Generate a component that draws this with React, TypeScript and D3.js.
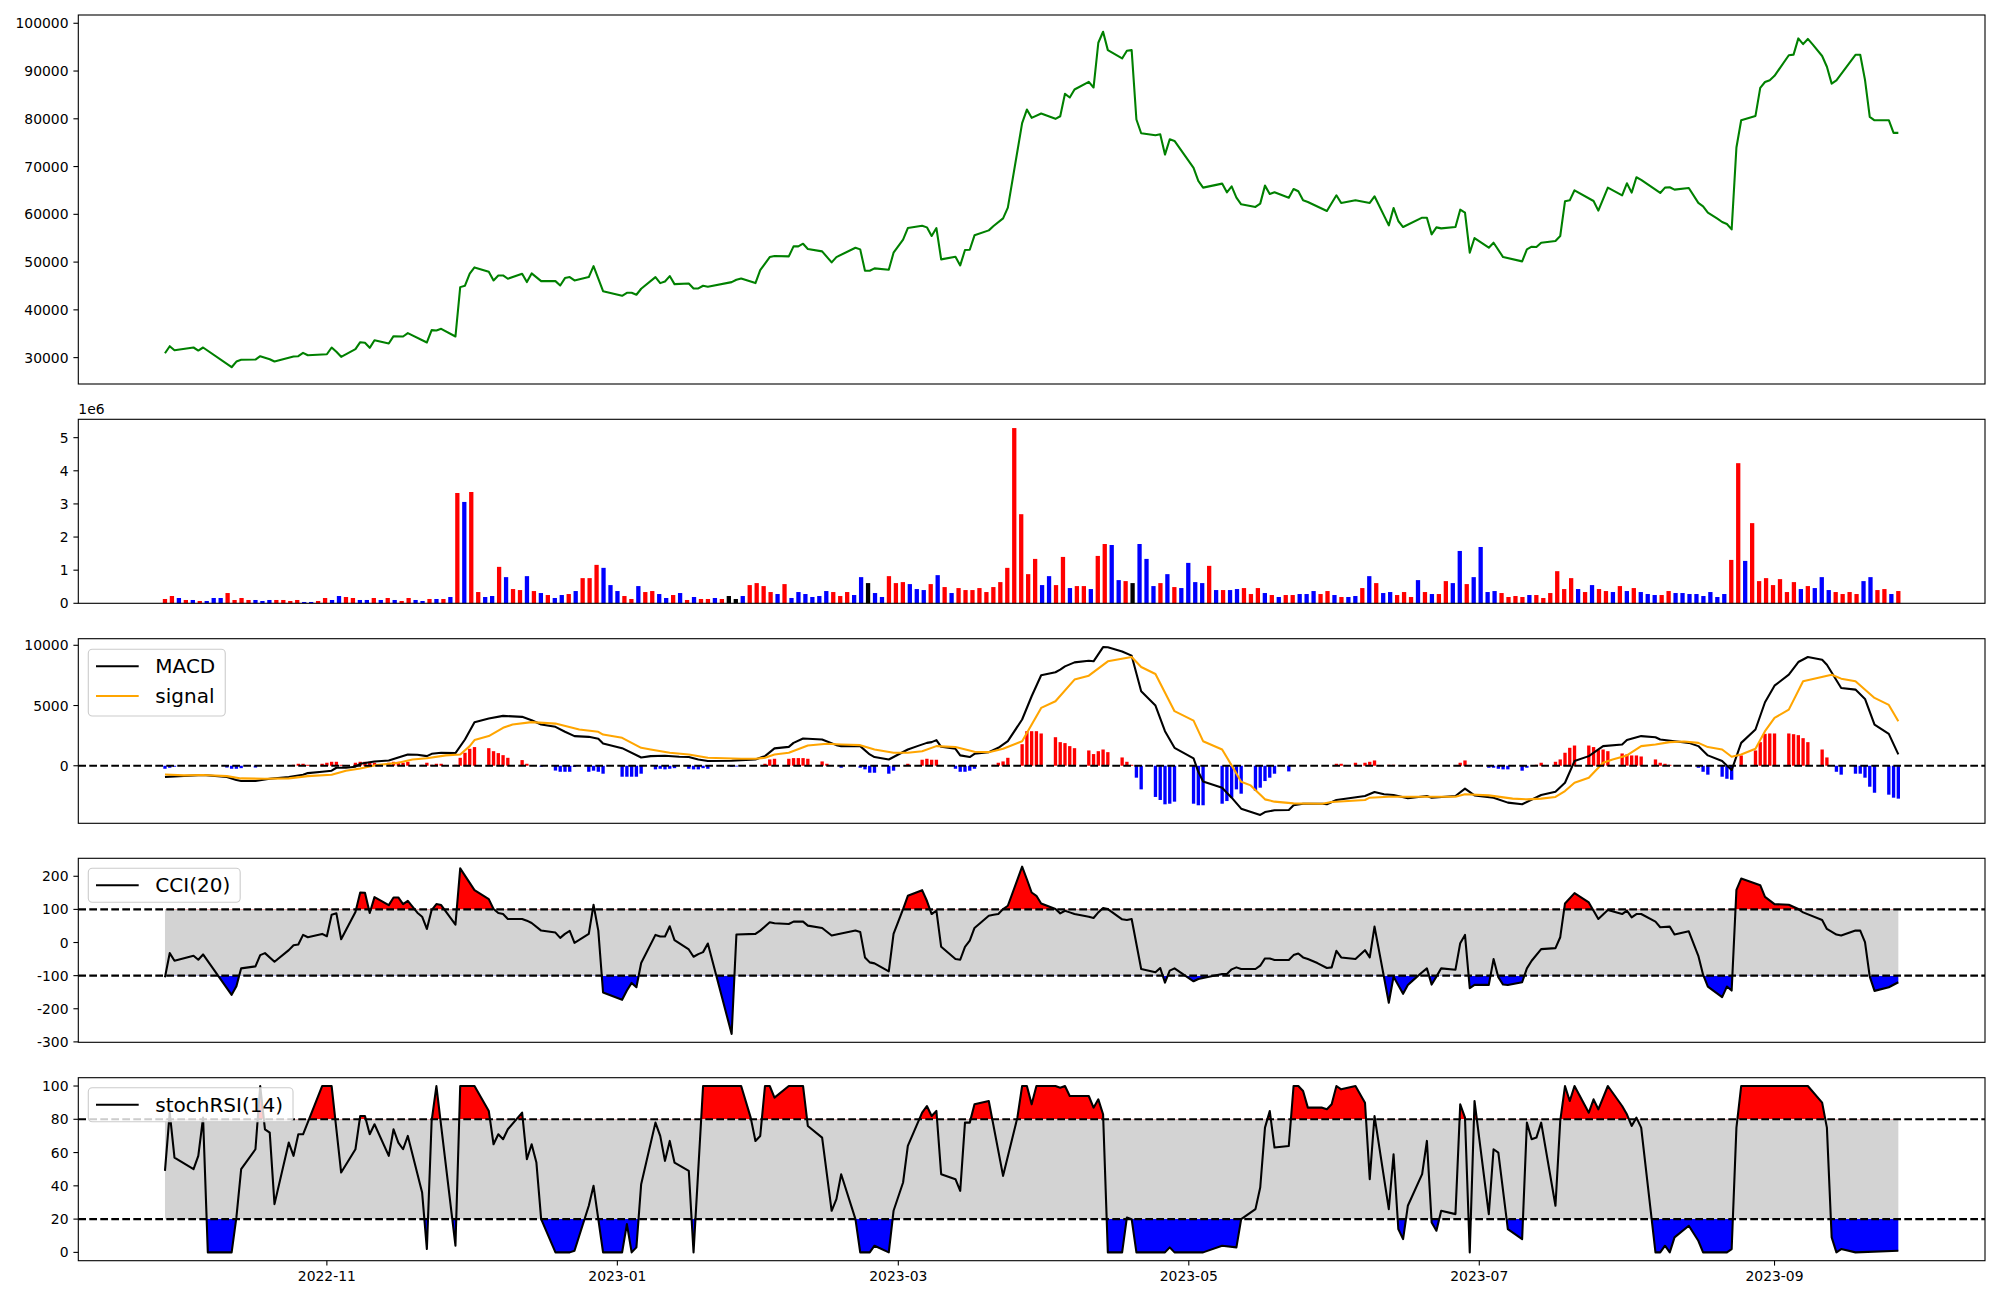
import React from 'react';
import * as d3 from 'd3';

// ---------- data ----------
const START_UTC = Date.UTC(2022, 8, 28); // day 0 = 2022-09-28
const LAST_DAY = 364; // 2023-09-27

// [day offset, close]
const PRICE: [number, number][] = [
  [0,30920],[1,32390],[2,31550],[6,32120],[7,31490],[8,32120],[14,27990],[15,29180],[16,29540],[19,29600],
  [20,30300],[22,29670],[23,29180],[27,30230],[28,30300],[29,31000],[30,30500],[34,30710],[35,32120],[36,31220],
  [37,30170],[40,31770],[41,33230],[42,33100],[43,32050],[44,33650],[47,32960],[48,34490],[50,34420],[51,35120],
  [55,33170],[56,35750],[57,35680],[58,36030],[61,34420],[62,44760],[63,45050],[64,47570],[65,48890],[68,47990],
  [69,46160],[70,47210],[71,47210],[72,46510],[75,47570],[76,45810],[77,47630],[79,46020],[82,46020],[83,45110],
  [84,46650],[85,46860],[86,46160],[89,46860],[90,49160],[92,43920],[96,42950],[97,43580],[98,43580],[99,43160],
  [100,44420],[103,46860],[104,45600],[105,45950],[106,47070],[107,45390],[110,45530],[111,44490],[112,44490],[113,45050],
  [114,44840],[119,45810],[120,46310],[121,46580],[124,45600],[125,48330],[127,51050],[128,51260],[131,51190],[132,53290],
  [133,53290],[134,53850],[135,52730],[138,52240],[140,49940],[141,51050],[145,53010],[146,52660],[147,48190],[148,48190],
  [149,48680],[152,48400],[153,51960],[155,54690],[156,57130],[159,57620],[160,57270],[161,55460],[162,57130],[163,50570],
  [166,51130],[167,49310],[168,52520],[169,52590],[170,55600],[173,56640],[174,57550],[176,59160],[177,61400],[180,79080],
  [181,81940],[182,80200],[184,81100],[187,79990],[188,80540],[189,85230],[190,84460],[191,86130],[194,87740],[195,86550],
  [196,95920],[197,98220],[198,94380],[201,92630],[202,94240],[203,94380],[204,79850],[205,76980],[208,76560],[209,76770],
  [210,72510],[211,75720],[212,75370],[216,69710],[217,66990],[218,65590],[222,66430],[223,64610],[224,65870],[225,63490],
  [226,62100],[229,61540],[230,62240],[231,66010],[232,64260],[233,64610],[236,63490],[237,65310],[238,64820],[239,62930],
  [240,62590],[244,60700],[246,63980],[247,62380],[250,62930],[253,62380],[254,63770],[257,57690],[258,61330],[259,58600],
  [260,57340],[264,59300],[265,59300],[266,55810],[267,57270],[268,57060],[271,57340],[272,60980],[273,60350],[274,51960],
  [275,55040],[278,53010],[279,54060],[281,51050],[285,50150],[286,52660],[287,53220],[288,53150],[289,54060],[292,54410],
  [293,55460],[294,62720],[295,62930],[296,65030],[300,62790],[301,60770],[303,65590],[306,63980],[307,66500],[308,64540],
  [309,67760],[310,67200],[314,64470],[315,65590],[316,65660],[317,65170],[320,65520],[322,62400],[323,61680],[324,60350],
  [326,59090],[327,58390],[328,57970],[329,56850],[330,74000],[331,79700],[334,80600],[335,86480],[336,87700],[337,88090],
  [338,89000],[341,93300],[342,93440],[343,96830],[344,95640],[345,96720],[346,95570],[348,93150],[349,90890],[350,87360],
  [351,88050],[355,93400],[356,93400],[357,88160],[358,80400],[359,79680],[362,79700],[363,77050],[364,77050],
];

// volume per session, in millions (250 sessions, evenly spaced)
const VOLUME_MILLIONS: number[] = [
  0.13,0.22,0.16,0.10,0.10,0.07,0.07,0.16,0.16,0.31,
  0.10,0.16,0.10,0.10,0.07,0.10,0.10,0.10,0.07,0.10,
  0.04,0.04,0.07,0.16,0.10,0.22,0.19,0.16,0.10,0.10,
  0.16,0.10,0.16,0.10,0.07,0.16,0.10,0.07,0.13,0.13,
  0.13,0.19,3.33,3.06,3.36,0.34,0.19,0.22,1.10,0.79,
  0.43,0.40,0.82,0.37,0.31,0.25,0.16,0.25,0.28,0.37,
  0.76,0.76,1.16,1.07,0.55,0.37,0.22,0.13,0.52,0.34,
  0.37,0.28,0.16,0.25,0.31,0.10,0.19,0.13,0.13,0.16,
  0.13,0.22,0.13,0.22,0.55,0.61,0.52,0.34,0.28,0.58,
  0.16,0.34,0.28,0.19,0.22,0.37,0.34,0.22,0.34,0.25,
  0.79,0.61,0.31,0.19,0.82,0.61,0.64,0.58,0.43,0.40,
  0.58,0.85,0.49,0.31,0.46,0.40,0.40,0.46,0.34,0.49,
  0.64,1.07,5.29,2.69,0.88,1.34,0.55,0.82,0.55,1.40,
  0.46,0.52,0.52,0.43,1.43,1.79,1.76,0.70,0.67,0.61,
  1.79,1.34,0.52,0.61,0.88,0.49,0.46,1.22,0.64,0.61,
  1.13,0.40,0.40,0.40,0.43,0.46,0.28,0.46,0.31,0.25,
  0.19,0.25,0.25,0.28,0.28,0.37,0.28,0.37,0.25,0.19,
  0.19,0.22,0.46,0.82,0.61,0.31,0.34,0.25,0.34,0.19,
  0.70,0.34,0.28,0.28,0.67,0.61,1.58,0.58,0.79,1.70,
  0.34,0.37,0.31,0.19,0.22,0.19,0.25,0.25,0.16,0.31,
  0.97,0.43,0.76,0.43,0.34,0.55,0.43,0.37,0.34,0.52,
  0.37,0.46,0.34,0.28,0.25,0.25,0.37,0.31,0.31,0.28,
  0.28,0.22,0.34,0.19,0.28,1.31,4.23,1.28,2.42,0.67,
  0.76,0.55,0.73,0.34,0.64,0.43,0.52,0.46,0.79,0.40,
  0.34,0.28,0.34,0.28,0.67,0.79,0.40,0.43,0.28,0.37,
];

// session direction: r = up (red), b = down (blue), k = flat (black)
const VOLUME_DIR: string[] = (
  'rrbrbrbbbr' + 'rrrbbbrrrr' + 'bbrrbbrrbb' + 'rbrbrrbbrb' + 'rbrbrrbbrb' +
  'rrbrbrbbrb' + 'rrrbbbrrbr' + 'rbbrbrbrrb' + 'rkkbrrrrbr' + 'bbbbbbrrrb' +
  'bkbbrrrbbb' + 'rbrbrrrrrr' + 'rrrrrrbbrr' + 'brrbrrbbrk' + 'bbbrbrbbbb' +
  'rbrbbrrrbr' + 'brrbbbrrbr' + 'bbrbrbbrrr' + 'brbrrbbrbb' + 'bbrrrrbrrr' +
  'rrrbrbrrbr' + 'brbbbrrbbb' + 'bbbbbrrbrr' + 'rrrrrbrbbb' + 'rrrrbbrrbr'
).split('');

const MACD: [number, number][] = [
  [0,-940],[2,-880],[4,-850],[8,-770],[13,-940],[15,-1190],[16,-1270],[19,-1270],[22,-1080],[26,-940],
  [29,-750],[30,-610],[33,-500],[35,-410],[36,-165],[38,-165],[40,-80],[41,165],[44,360],[47,440],
  [49,690],[51,940],[53,910],[55,800],[56,990],[58,1080],[61,1050],[63,2180],[65,3620],[68,3920],
  [71,4140],[75,4060],[77,3780],[79,3420],[82,3230],[84,2820],[86,2460],[89,2400],[91,2240],[92,1850],
  [96,1460],[100,690],[102,800],[105,830],[108,750],[110,720],[112,520],[114,390],[119,410],[121,470],
  [124,520],[126,800],[128,1440],[131,1570],[132,1900],[134,2260],[138,2180],[141,1710],[142,1630],[146,1630],
  [148,940],[149,720],[152,520],[156,1350],[158,1630],[160,1900],[161,1960],[162,2130],[163,1570],[166,1410],
  [167,860],[169,720],[170,990],[173,1130],[175,1490],[177,2040],[180,3840],[182,5770],[184,7510],[187,7760],
  [188,7980],[189,8250],[191,8580],[194,8720],[195,8670],[197,9850],[198,9830],[201,9490],[203,9140],[205,6180],
  [208,5000],[210,2870],[212,1490],[216,610],[217,-500],[218,-1300],[222,-1820],[224,-2650],[226,-3560],[230,-4080],
  [231,-3840],[233,-3700],[236,-3670],[237,-3280],[239,-3150],[243,-3150],[244,-3200],[246,-2840],[252,-2510],[254,-2180],
  [256,-2370],[258,-2430],[261,-2700],[265,-2510],[266,-2650],[271,-2510],[273,-1900],[275,-2460],[279,-2650],[282,-3060],
  [285,-3200],[289,-2430],[292,-2150],[294,-1410],[296,390],[299,800],[302,1630],[306,1770],[307,2130],[310,2460],
  [313,2370],[314,2180],[317,2040],[320,1900],[322,1630],[324,860],[327,390],[329,-360],[331,1900],[334,3010],
  [336,5270],[338,6650],[341,7560],[343,8610],[345,9030],[348,8800],[349,8390],[352,6460],[355,6320],[357,5550],
  [359,3420],[362,2650],[364,940],
];

const SIGNAL: [number, number][] = [
  [0,-720],[4,-800],[8,-770],[13,-860],[16,-1050],[21,-1080],[26,-1050],[30,-860],[35,-750],[38,-410],
  [41,-220],[44,30],[49,250],[52,520],[55,630],[59,860],[62,940],[64,1630],[65,2130],[68,2460],
  [71,3150],[73,3420],[77,3620],[82,3500],[87,3010],[91,2820],[92,2590],[96,2320],[100,1490],[102,1350],
  [106,1080],[110,940],[114,660],[121,580],[124,580],[126,660],[128,940],[131,1080],[135,1680],[139,1820],
  [142,1770],[146,1710],[149,1350],[153,1080],[156,1080],[159,1210],[162,1630],[166,1550],[170,1160],[173,1130],
  [176,1410],[180,2040],[184,4800],[187,5350],[191,7150],[194,7480],[198,8670],[203,9030],[205,8200],[208,7620],
  [212,4530],[216,3750],[218,2040],[222,1350],[224,30],[226,-1320],[228,-1630],[231,-2790],[233,-2980],[237,-3120],
  [243,-3150],[245,-3010],[252,-2840],[253,-2650],[257,-2570],[264,-2570],[271,-2570],[273,-2370],[278,-2460],[283,-2730],
  [286,-2790],[289,-2730],[292,-2590],[294,-2100],[296,-1410],[299,-990],[302,250],[304,520],[307,860],[310,1630],
  [313,1770],[316,1960],[319,2010],[322,1900],[324,1550],[327,1350],[329,750],[331,940],[334,1410],[336,2870],
  [338,3970],[341,4660],[344,7010],[347,7290],[350,7560],[352,7230],[355,7010],[359,5630],[362,5050],[364,3700],
];

// MACD histogram, [day offset, value] (days with a visible bar)
const HIST: [number, number][] = [
  [0,-250],[1,-165],[2,-80],[13,-150],[14,-250],[15,-250],[16,-200],[19,-150],[27,80],[28,165],
  [29,165],[30,80],[33,165],[34,250],[35,330],[36,330],[37,80],[40,250],[41,330],[42,330],
  [43,330],[44,250],[47,250],[48,330],[49,330],[50,250],[51,330],[54,80],[55,250],[56,80],
  [57,165],[58,165],[61,80],[62,660],[63,1080],[64,1410],[65,1550],[68,1460],[69,1210],[70,1050],
  [71,880],[72,660],[75,470],[76,165],[77,60],[79,-80],[82,-400],[83,-500],[84,-500],[85,-500],
  [86,-100],[89,-500],[90,-410],[91,-500],[92,-660],[96,-910],[97,-910],[98,-910],[99,-910],[100,-660],
  [103,-300],[104,-250],[105,-300],[106,-250],[107,-200],[110,-250],[111,-300],[112,-300],[113,-200],[114,-250],
  [119,-80],[120,-60],[126,165],[127,525],[128,580],[131,580],[132,635],[133,635],[134,635],[135,580],
  [138,360],[139,165],[142,-165],[146,-165],[147,-300],[148,-580],[149,-580],[152,-660],[153,-410],[156,165],
  [159,500],[160,580],[161,500],[162,500],[166,-250],[167,-500],[168,-500],[169,-410],[170,-250],[174,80],
  [175,250],[176,360],[177,660],[180,1790],[181,2870],[182,2870],[183,2870],[184,2680],[187,2370],[188,1960],
  [189,1880],[190,1630],[191,1460],[194,1270],[195,970],[196,1210],[197,1350],[198,1130],[201,690],[202,330],
  [203,80],[204,-990],[205,-1960],[208,-2590],[209,-2840],[210,-3200],[211,-3150],[212,-2980],[216,-3150],[217,-3280],
  [218,-3280],[222,-3150],[223,-2930],[224,-2650],[225,-1960],[226,-2320],[229,-2070],[230,-1820],[231,-1270],[232,-990],
  [233,-660],[236,-470],[246,165],[247,165],[250,250],[252,250],[253,330],[254,440],[257,80],[258,80],
  [260,-30],[272,250],[273,440],[278,-165],[279,-165],[280,-250],[281,-300],[282,-300],[285,-410],[286,-165],
  [288,80],[289,250],[292,330],[293,525],[294,1080],[295,1490],[296,1680],[299,1680],[300,1550],[301,1300],
  [302,1350],[303,1210],[306,1020],[307,940],[308,855],[309,855],[310,770],[313,525],[314,250],[315,165],
  [316,80],[322,-165],[323,-500],[324,-740],[327,-910],[328,-1080],[329,-1160],[331,855],[334,1270],[335,1960],
  [336,2650],[337,2680],[338,2680],[341,2680],[342,2620],[343,2540],[344,2290],[345,1960],[348,1350],[349,690],
  [351,-500],[352,-740],[355,-660],[356,-660],[357,-990],[358,-1740],[359,-2240],[362,-2400],[363,-2650],[364,-2730],
];

const CCI: [number, number][] = [
  [0,-105],[1,-32],[2,-55],[6,-40],[7,-52],[8,-36],[14,-158],[15,-132],[16,-78],[19,-72],
  [20,-38],[21,-32],[23,-58],[26,-23],[27,-8],[28,-6],[29,23],[30,16],[33,26],[34,19],
  [35,84],[36,88],[37,10],[40,92],[41,151],[42,150],[43,89],[44,137],[47,113],[48,136],
  [49,136],[50,116],[51,126],[53,90],[54,78],[55,41],[56,98],[57,116],[58,113],[61,54],
  [62,224],[65,158],[68,131],[69,101],[70,89],[71,86],[72,71],[75,71],[76,66],[77,59],
  [79,36],[82,30],[83,14],[84,26],[85,35],[86,-1],[89,26],[90,114],[91,36],[92,-151],
  [96,-173],[97,-145],[98,-122],[99,-135],[100,-62],[103,23],[104,18],[105,18],[106,49],[107,7],
  [110,-21],[111,-43],[112,-35],[113,-29],[114,-3],[119,-276],[120,24],[124,26],[125,36],[127,61],
  [128,58],[131,56],[132,63],[134,63],[135,51],[138,44],[140,21],[141,24],[145,36],[146,32],
  [147,-45],[148,-60],[149,-63],[152,-87],[153,26],[155,101],[156,141],[159,158],[160,126],[161,86],
  [162,96],[163,-13],[166,-50],[167,-52],[168,-13],[169,6],[170,44],[173,81],[174,84],[175,86],
  [176,101],[177,111],[180,229],[181,191],[182,151],[183,141],[184,118],[187,101],[188,88],[189,96],
  [190,91],[191,86],[194,78],[195,74],[196,91],[197,104],[198,101],[201,70],[202,68],[203,71],
  [205,-80],[208,-90],[209,-77],[210,-121],[211,-85],[212,-78],[216,-117],[217,-110],[222,-95],[223,-95],
  [224,-81],[225,-75],[226,-80],[229,-80],[230,-70],[231,-48],[232,-48],[233,-53],[236,-53],[237,-38],
  [238,-33],[239,-45],[240,-50],[242,-62],[244,-77],[245,-75],[246,-25],[247,-45],[250,-50],[252,-23],
  [253,-45],[254,48],[257,-182],[258,-103],[260,-155],[261,-128],[262,-115],[264,-90],[265,-78],[266,-127],
  [267,-103],[268,-78],[271,-82],[272,-2],[273,23],[274,-138],[275,-128],[278,-128],[279,-50],[280,-105],
  [281,-127],[282,-128],[285,-120],[286,-78],[287,-55],[289,-20],[292,-17],[293,16],[294,118],[296,149],
  [299,121],[301,71],[303,98],[306,86],[307,96],[308,76],[309,86],[310,86],[313,63],[314,46],
  [316,48],[317,24],[320,34],[322,-40],[323,-97],[324,-133],[327,-165],[328,-133],[329,-145],[330,159],
  [331,193],[335,173],[336,138],[338,116],[341,114],[343,101],[344,91],[348,68],[349,41],[351,24],
  [352,21],[355,36],[356,36],[357,1],[358,-103],[359,-146],[362,-135],[364,-120],
];

const STOCH_RSI: [number, number][] = [
  [0,49],[1,84],[2,57],[6,50],[7,58],[8,81],[9,0],[14,0],[15,21],[16,50],
  [19,62],[20,100],[21,74],[22,72],[23,29],[26,66],[27,58],[28,71],[29,71],[33,100],
  [35,100],[37,48],[40,62],[41,82],[42,82],[43,71],[44,77],[47,58],[48,74],[49,66],
  [50,62],[51,70],[54,36],[55,2],[56,79],[57,100],[61,4],[62,100],[65,100],[68,85],
  [69,65],[70,71],[71,68],[72,74],[75,84],[76,56],[77,65],[78,54],[79,20],[82,0],
  [85,0],[86,1],[89,28],[90,40],[91,20],[92,0],[96,0],[97,17],[98,0],[99,3],
  [100,41],[103,78],[104,70],[105,55],[106,67],[107,54],[110,49],[111,0],[113,100],[121,100],
  [123,81],[124,67],[125,70],[126,100],[127,100],[128,93],[131,100],[134,100],[135,76],[138,69],
  [140,25],[141,32],[142,47],[145,20],[146,0],[148,0],[149,4],[152,0],[153,25],[155,42],
  [156,64],[159,84],[160,88],[161,82],[162,85],[163,47],[166,44],[167,37],[168,78],[169,78],
  [170,89],[173,91],[176,46],[179,81],[180,100],[181,100],[182,89],[183,100],[187,100],[188,99],
  [189,100],[190,94],[194,94],[195,87],[196,92],[197,83],[198,0],[201,0],[202,21],[203,20],
  [204,0],[210,0],[211,3],[212,0],[218,0],[222,4],[225,3],[226,20],[229,26],[230,39],
  [231,75],[232,85],[233,63],[236,64],[237,100],[238,100],[239,97],[240,87],[243,87],[244,86],
  [245,89],[246,100],[247,98],[250,100],[252,90],[253,44],[254,82],[257,26],[258,59],[259,14],
  [260,8],[261,28],[264,47],[265,67],[266,18],[267,13],[268,25],[271,23],[272,89],[273,81],
  [274,0],[275,91],[278,23],[279,62],[280,60],[282,14],[285,8],[286,78],[287,68],[288,69],
  [289,78],[292,28],[293,79],[294,100],[295,91],[296,100],[299,84],[300,92],[301,86],[303,100],
  [306,88],[307,83],[308,76],[309,81],[310,75],[313,0],[314,0],[315,4],[316,0],[317,9],
  [320,16],[322,7],[323,0],[328,0],[329,2],[330,75],[331,100],[345,100],[348,90],[349,75],
  [350,9],[351,0],[352,2],[355,0],[364,1],
];

const PRICE_TICKS = [30000, 40000, 50000, 60000, 70000, 80000, 90000, 100000];
const VOLUME_TICKS = [0, 1, 2, 3, 4, 5];
const MACD_TICKS = [0, 5000, 10000];
const CCI_TICKS = [-300, -200, -100, 0, 100, 200];
const STOCH_TICKS = [0, 20, 40, 60, 80, 100];
const CCI_BANDS = [-100, 100];
const STOCH_BANDS = [20, 80];

// ---------- layout ----------
const W = 2000;
const H = 1300;
const LEFT = 78.3;
const RIGHT = 1985;
const PANELS = [
  { top: 15, bottom: 384 },
  { top: 419.3, bottom: 603.3 },
  { top: 638.7, bottom: 823.3 },
  { top: 858.3, bottom: 1042.3 },
  { top: 1077.7, bottom: 1260.7 },
];
const FONT = '"DejaVu Sans", "Liberation Sans", sans-serif';
const TICK_FS = 13.9;
const LEG_FS = 20;
const LW = 2.08;
const COLORS: Record<string, string> = { r: '#ff0000', b: '#0000ff', k: '#000000' };

function textWidth(t: string, size: number): number {
  if (typeof document === 'undefined') return t.length * size * 0.6;
  const ctx = document.createElement('canvas').getContext('2d');
  if (!ctx) return t.length * size * 0.6;
  ctx.font = `${size}px "DejaVu Sans"`;
  return ctx.measureText(t).width;
}

function padded(vals: number[]): [number, number] {
  const mn = d3.min(vals) as number;
  const mx = d3.max(vals) as number;
  const p = (mx - mn) * 0.05;
  return [mn - p, mx + p];
}

function Legend({ x, y, items }: { x: number; y: number; items: { label: string; color: string }[] }) {
  const w = 67 + Math.max(...items.map((i) => textWidth(i.label, LEG_FS))) + 10;
  const h = 34 + (items.length - 1) * 32.7;
  return (
    <g>
      <rect x={x} y={y} width={w} height={h} rx={4} ry={4} fill="#ffffff" fillOpacity={0.8} stroke="#cccccc" strokeWidth={1.1} />
      {items.map((it, k) => {
        const cy = y + 17 + k * 29.7;
        return (
          <g key={k}>
            <line x1={x + 7.7} x2={x + 50.4} y1={cy} y2={cy} stroke={it.color} strokeWidth={LW} />
            <text x={x + 67} y={cy} dominantBaseline="central" fontSize={LEG_FS} fontFamily={FONT} fill="#000">
              {it.label}
            </text>
          </g>
        );
      })}
    </g>
  );
}

function YTicks({ scale, ticks }: { scale: d3.ScaleLinear<number, number>; ticks: number[] }) {
  return (
    <g>
      {ticks.map((t) => {
        const yy = scale(t);
        return (
          <g key={t}>
            <line x1={LEFT - 4.9} x2={LEFT} y1={yy} y2={yy} stroke="#000" strokeWidth={1.1} />
            <text x={LEFT - 9.8} y={yy} textAnchor="end" dominantBaseline="central" fontSize={TICK_FS} fontFamily={FONT} fill="#000">
              {String(t)}
            </text>
          </g>
        );
      })}
    </g>
  );
}

function Frame({ p }: { p: { top: number; bottom: number } }) {
  return <rect x={LEFT} y={p.top} width={RIGHT - LEFT} height={p.bottom - p.top} fill="none" stroke="#000" strokeWidth={1.1} />;
}

export default function App() {
  const dayToDate = (d: number) => new Date(START_UTC + d * 86400000);
  const xPad = LAST_DAY * 0.05;
  const x = d3.scaleUtc().domain([dayToDate(-xPad), dayToDate(LAST_DAY + xPad)]).range([LEFT, RIGHT]);
  const xd = (d: number) => x(dayToDate(d));
  const dayPx = xd(1) - xd(0);

  // scales
  const [p1, p2, p3, p4, p5] = PANELS;
  const yPrice = d3.scaleLinear().domain(padded(PRICE.map((d) => d[1]))).range([p1.bottom, p1.top]);
  const yVol = d3.scaleLinear().domain([0, (d3.max(VOLUME_MILLIONS) as number) * 1.05]).range([p2.bottom, p2.top]);
  const yMacd = d3
    .scaleLinear()
    .domain(padded([...MACD.map((d) => d[1]), ...SIGNAL.map((d) => d[1]), ...HIST.map((d) => d[1])]))
    .range([p3.bottom, p3.top]);
  const yCci = d3.scaleLinear().domain(padded(CCI.map((d) => d[1]))).range([p4.bottom, p4.top]);
  const yStoch = d3.scaleLinear().domain(padded(STOCH_RSI.map((d) => d[1]))).range([p5.bottom, p5.top]);

  const linePath = (data: [number, number][], y: d3.ScaleLinear<number, number>) =>
    d3
      .line<[number, number]>()
      .x((d) => xd(d[0]))
      .y((d) => y(d[1]))(data) || '';

  const areaTo = (data: [number, number][], y: d3.ScaleLinear<number, number>, level: number) =>
    d3
      .area<[number, number]>()
      .x((d) => xd(d[0]))
      .y0(y(level))
      .y1((d) => y(d[1]))(data) || '';

  const nVol = VOLUME_MILLIONS.length;
  const volStep = LAST_DAY / (nVol - 1);
  const volW = 0.9 * dayPx;
  const histW = 0.7 * dayPx;

  const xTicks = x.ticks(d3.utcMonth.every(2) as d3.TimeInterval);
  const fmt = d3.utcFormat('%Y-%m');

  const bandPanel = (
    id: string,
    data: [number, number][],
    y: d3.ScaleLinear<number, number>,
    p: { top: number; bottom: number },
    lo: number,
    hi: number
  ) => {
    const x0 = xd(data[0][0]);
    const x1 = xd(data[data.length - 1][0]);
    return (
      <g>
        <defs>
          <clipPath id={`${id}-hi`}>
            <rect x={LEFT} y={p.top} width={RIGHT - LEFT} height={y(hi) - p.top} />
          </clipPath>
          <clipPath id={`${id}-lo`}>
            <rect x={LEFT} y={y(lo)} width={RIGHT - LEFT} height={p.bottom - y(lo)} />
          </clipPath>
        </defs>
        <rect x={x0} y={y(hi)} width={x1 - x0} height={y(lo) - y(hi)} fill="#d3d3d3" />
        <path d={areaTo(data, y, hi)} fill="#ff0000" clipPath={`url(#${id}-hi)`} />
        <path d={areaTo(data, y, lo)} fill="#0000ff" clipPath={`url(#${id}-lo)`} />
        <path d={linePath(data, y)} fill="none" stroke="#000" strokeWidth={LW} strokeLinejoin="round" />
        {[lo, hi].map((v) => (
          <line key={v} x1={LEFT} x2={RIGHT} y1={y(v)} y2={y(v)} stroke="#000" strokeWidth={LW} strokeDasharray="7.7 3.3" />
        ))}
      </g>
    );
  };

  return (
    <svg
      width={W}
      height={H}
      viewBox={`0 0 ${W} ${H}`}
      style={{ position: 'absolute', left: 0, top: 0, background: '#fff' }}
      fontFamily={FONT}
    >
      <rect x={0} y={0} width={W} height={H} fill="#ffffff" />

      {/* Panel 1: price */}
      <path d={linePath(PRICE, yPrice)} fill="none" stroke="#008000" strokeWidth={LW} strokeLinejoin="round" />
      <Frame p={p1} />
      <YTicks scale={yPrice} ticks={PRICE_TICKS} />

      {/* Panel 2: volume */}
      {VOLUME_MILLIONS.map((v, i) => {
        const cx = xd(i * volStep);
        return (
          <rect
            key={i}
            x={cx - volW / 2}
            y={yVol(v)}
            width={volW}
            height={yVol(0) - yVol(v)}
            fill={COLORS[VOLUME_DIR[i]] || '#000'}
          />
        );
      })}
      <Frame p={p2} />
      <YTicks scale={yVol} ticks={VOLUME_TICKS} />
      <text x={LEFT} y={p2.top - 5.5} fontSize={TICK_FS} fontFamily={FONT} fill="#000">
        1e6
      </text>

      {/* Panel 3: MACD */}
      {HIST.map(([d, v], i) => (
        <rect
          key={i}
          x={xd(d) - histW / 2}
          y={Math.min(yMacd(v), yMacd(0))}
          width={histW}
          height={Math.abs(yMacd(v) - yMacd(0))}
          fill={v >= 0 ? '#ff0000' : '#0000ff'}
        />
      ))}
      <path d={linePath(MACD, yMacd)} fill="none" stroke="#000000" strokeWidth={LW} strokeLinejoin="round" />
      <path d={linePath(SIGNAL, yMacd)} fill="none" stroke="#ffa500" strokeWidth={LW} strokeLinejoin="round" />
      <line x1={LEFT} x2={RIGHT} y1={yMacd(0)} y2={yMacd(0)} stroke="#000" strokeWidth={LW} strokeDasharray="7.7 3.3" />
      <Frame p={p3} />
      <YTicks scale={yMacd} ticks={MACD_TICKS} />
      <Legend
        x={LEFT + 10}
        y={p3.top + 10.6}
        items={[
          { label: 'MACD', color: '#000000' },
          { label: 'signal', color: '#ffa500' },
        ]}
      />

      {/* Panel 4: CCI */}
      {bandPanel('cci', CCI, yCci, p4, CCI_BANDS[0], CCI_BANDS[1])}
      <Frame p={p4} />
      <YTicks scale={yCci} ticks={CCI_TICKS} />
      <Legend x={LEFT + 10} y={p4.top + 10} items={[{ label: 'CCI(20)', color: '#000000' }]} />

      {/* Panel 5: stochRSI */}
      {bandPanel('srsi', STOCH_RSI, yStoch, p5, STOCH_BANDS[0], STOCH_BANDS[1])}
      <Frame p={p5} />
      <YTicks scale={yStoch} ticks={STOCH_TICKS} />
      <Legend x={LEFT + 10} y={p5.top + 10} items={[{ label: 'stochRSI(14)', color: '#000000' }]} />

      {/* x axis */}
      {xTicks.map((t, i) => {
        const xx = x(t);
        return (
          <g key={i}>
            <line x1={xx} x2={xx} y1={p5.bottom} y2={p5.bottom + 4.9} stroke="#000" strokeWidth={1.1} />
            <text x={xx} y={p5.bottom + 20.5} textAnchor="middle" fontSize={TICK_FS} fontFamily={FONT} fill="#000">
              {fmt(t)}
            </text>
          </g>
        );
      })}
    </svg>
  );
}
